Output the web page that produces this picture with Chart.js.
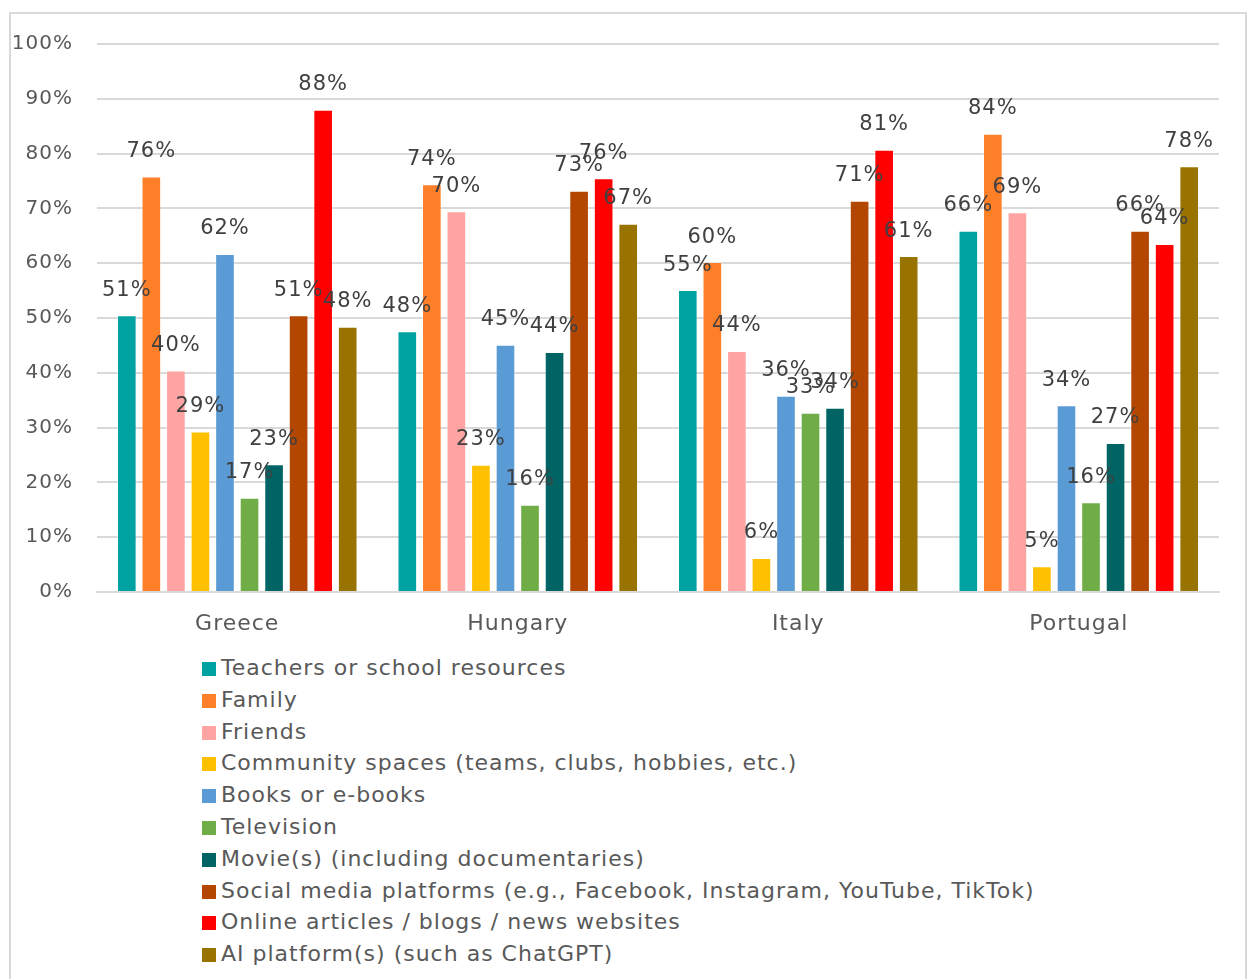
<!DOCTYPE html>
<html>
<head>
<meta charset="utf-8">
<script src="https://cdn.jsdelivr.net/npm/chart.js@4.4.1/dist/chart.umd.min.js"></script>
<style>
  body { margin: 0; background: #fff; font-family: "DejaVu Sans", sans-serif; }
  #frame { position: absolute; left: 9px; top: 12px; width: 1234px; height: 1000px; border: 2px solid #d9d9d9; }
  #wrap { position: absolute; left: 0; top: 0; width: 1247px; height: 645px; }
  #legend { position: absolute; left: 202px; top: 652px; list-style: none; margin: 0; padding: 0; }
  #legend li { height: 31.8px; line-height: 31.8px; font-size: 22px; letter-spacing: 1px; color: #595959; white-space: nowrap; }
  #legend span.box { display: inline-block; width: 14px; height: 14px; margin-right: 5px; vertical-align: -1px; }
</style>
</head>
<body>
<div id="frame"></div>
<div id="wrap"><canvas id="myChart" width="1247" height="645"></canvas></div>
<ul id="legend"></ul>
<script>
// categories + series
const countries = ["Greece", "Hungary", "Italy", "Portugal"];
const seriesNames = [
  "Teachers or school resources",
  "Family",
  "Friends",
  "Community spaces (teams, clubs, hobbies, etc.)",
  "Books or e-books",
  "Television",
  "Movie(s) (including documentaries)",
  "Social media platforms (e.g., Facebook, Instagram, YouTube, TikTok)",
  "Online articles / blogs / news websites",
  "AI platform(s) (such as ChatGPT)"
];
const colors = ["#00a3a1", "#fd7f28", "#ffa3a3", "#ffc000", "#5b9bd5", "#70ad47", "#006464", "#b34700", "#ff0000", "#997300"];

// values per series, in order Greece, Hungary, Italy, Portugal
const teachers = [50.5, 47.6, 55.1, 65.9];
const family = [75.8, 74.4, 60.2, 83.6];
const friends = [40.4, 69.5, 44.0, 69.3];
const community = [29.3, 23.2, 6.2, 4.7];
const books = [61.7, 45.1, 35.8, 34.1];
const television = [17.2, 15.9, 32.7, 16.4];
const movies = [23.3, 43.8, 33.6, 27.2];
const socialMedia = [50.5, 73.2, 71.4, 65.9];
const online = [88.0, 75.5, 80.7, 63.5];
const aiPlatforms = [48.4, 67.2, 61.3, 77.7];

const yTicks = [0, 10, 20, 30, 40, 50, 60, 70, 80, 90, 100];

const allSeries = [teachers, family, friends, community, books, television, movies, socialMedia, online, aiPlatforms];

const datasets = allSeries.map((vals, i) => ({
  label: seriesNames[i],
  data: vals,
  backgroundColor: colors[i],
  borderColor: "rgba(255,255,255,0.35)",
  borderWidth: 1,
  barPercentage: 0.8,
  categoryPercentage: 0.875
}));

// wider text spacing, closer to the original font
const spacing = {
  id: "spacing",
  beforeDraw(chart) { chart.ctx.letterSpacing = "1px"; }
};

// draws the % labels above each bar
const barLabels = {
  id: "barLabels",
  afterDatasetsDraw(chart) {
    const ctx = chart.ctx;
    ctx.save();
    ctx.font = "21px 'DejaVu Sans'";
    ctx.letterSpacing = "1px";
    ctx.fillStyle = "#404040";
    ctx.textAlign = "center";
    ctx.textBaseline = "middle";
    chart.data.datasets.forEach((ds, i) => {
      chart.getDatasetMeta(i).data.forEach((bar, j) => {
        ctx.fillText(Math.round(ds.data[j]) + "%", bar.x, bar.y - 25);
      });
    });
    ctx.restore();
  }
};

const ctx = document.getElementById("myChart");
const myChart = new Chart(ctx, {
  type: "bar",
  data: { labels: countries, datasets: datasets },
  options: {
    responsive: false,
    animation: false,
    layout: { padding: { top: 44, right: 28, left: 0, bottom: 0 } },
    plugins: {
      legend: { display: false },
      tooltip: { enabled: false }
    },
    scales: {
      x: {
        grid: { display: false },
        border: { color: "#d9d9d9", width: 2 },
        ticks: { color: "#595959", font: { size: 22, family: "DejaVu Sans" }, padding: 11 },
        afterFit: s => { s.height = 53; }
      },
      y: {
        min: 0,
        max: 100,
        afterBuildTicks: s => { s.ticks = yTicks.map(v => ({ value: v })); },
        grid: { color: "#d9d9d9", lineWidth: 2, drawTicks: false },
        border: { display: false },
        ticks: {
          color: "#595959",
          font: { size: 20, family: "DejaVu Sans" },
          padding: 24,
          callback: v => v + "%"
        },
        afterFit: s => { s.width = 97; }
      }
    }
  },
  plugins: [spacing, barLabels]
});

// legend list, one item per row
const legendEl = document.getElementById("legend");
seriesNames.forEach((name, i) => {
  const li = document.createElement("li");
  const box = document.createElement("span");
  box.className = "box";
  box.style.background = colors[i];
  li.appendChild(box);
  li.appendChild(document.createTextNode(name));
  legendEl.appendChild(li);
});
</script>
</body>
</html>
